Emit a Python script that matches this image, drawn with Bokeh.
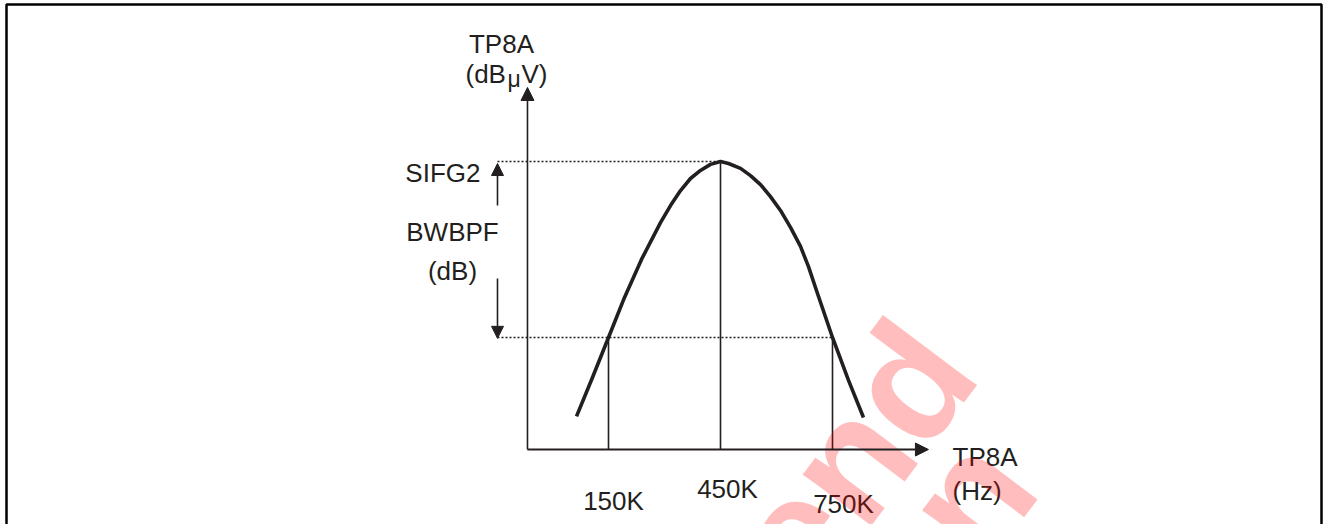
from bokeh.plotting import figure
from bokeh.models import Arrow, NormalHead, Range1d
from bokeh.core.properties import value
from bokeh.embed import file_html
from bokeh.resources import INLINE

# ---------------- data ----------------
tick_freq = [150, 450, 750]                 # kHz
tick_labels = ["150K", "450K", "750K"]
curve_freq = [64.3, 107.1, 150, 192.9, 238.4, 289.3, 316.1, 342.9, 369.6, 396.4, 423.2, 450,
              471.4, 503.6, 530.4, 557.1, 583.9, 610.7, 637.5, 664.3, 685.7, 707.1, 750, 792.9, 833.0]
curve_level = [11.5, 25.0, 38.9, 52.8, 66.0, 78.8, 84.7, 89.9, 94.1, 96.9, 99.0, 100.0,
               99.3, 97.6, 95.1, 92.0, 87.8, 83.0, 77.1, 70.5, 63.5, 55.2, 38.9, 24.0, 11.1]
peak_freq = 450
peak_level = 100.0      # SIFG2
bw_level = 38.9         # SIFG2 - BWBPF
axis_level_max = 125.7
axis_freq_min = -67
axis_freq_max = 1007

INK = "#231f20"
FONT = value("Liberation Sans")

W, H = 1324, 524


# pixel -> data helpers for decoration placement (layout only)
def fx(px):
    return 150 + (px - 608) / 0.373333


def ly(py):
    return (449 - py) / 2.88


p = figure(width=W, height=H,
           x_range=Range1d(fx(0), fx(W)), y_range=Range1d(ly(H), ly(0)),
           output_backend="svg", toolbar_location=None,
           x_axis_type=None, y_axis_type=None, min_border=0, margin=0)
p.grid.visible = False
p.outline_line_color = None
p.background_fill_color = "white"
p.border_fill_color = "white"

# page frame
p.line([fx(6), fx(6), fx(1321), fx(1321)], [ly(540), ly(4), ly(4), ly(540)],
       line_color="black", line_width=2.5)

# dotted reference lines
left_ref = fx(497)
p.line([left_ref, peak_freq], [peak_level, peak_level], line_color=INK, line_width=1.5, line_dash="2 2")
p.line([left_ref, tick_freq[2]], [bw_level, bw_level], line_color=INK, line_width=1.5, line_dash="2 2")

# verticals at 150K / 450K / 750K
p.segment(x0=tick_freq, y0=[0, 0, 0], x1=tick_freq, y1=[bw_level, peak_level, bw_level],
          line_color=INK, line_width=1.6)

# curve
p.line(curve_freq, curve_level, line_color=INK, line_width=3.6, line_join="round", line_cap="butt")

# axes with arrows
p.add_layout(Arrow(x_start=axis_freq_min, y_start=0, x_end=axis_freq_min, y_end=axis_level_max,
                   line_color=INK, line_width=1.6,
                   end=NormalHead(size=13, fill_color=INK, line_color=INK, line_width=1)))
p.add_layout(Arrow(x_start=axis_freq_min, y_start=0, x_end=axis_freq_max, y_end=0,
                   line_color=INK, line_width=2,
                   end=NormalHead(size=13, fill_color=INK, line_color=INK, line_width=1)))

# BWBPF double arrow
p.add_layout(Arrow(x_start=left_ref, y_start=ly(205), x_end=left_ref, y_end=peak_level - 0.7,
                   line_color=INK, line_width=1.6,
                   end=NormalHead(size=12, fill_color=INK, line_color=INK, line_width=1)))
p.add_layout(Arrow(x_start=left_ref, y_start=ly(278), x_end=left_ref, y_end=bw_level - 0.3,
                   line_color=INK, line_width=1.6,
                   end=NormalHead(size=12, fill_color=INK, line_color=INK, line_width=1)))

common = dict(text_font=FONT, text_color=INK, text_baseline="alphabetic")

# tick labels
p.text(x=[fx(613), fx(727), fx(843)], y=[ly(500), ly(488), ly(503)], text=tick_labels,
       text_align="center", text_font_size="26px", **common)

# y axis title
p.text(x=[fx(501)], y=[ly(43)], text=["TP8A"], text_align="center", text_font_size="26px", **common)
p.text(x=[fx(465)], y=[ly(73)], text=["(dB"], text_align="left", text_font_size="26px", **common)
p.text(x=[fx(507)], y=[ly(78)], text=["\u03bc"], text_align="left", text_font_size="23px", **common)
p.text(x=[fx(521)], y=[ly(73)], text=["V)"], text_align="left", text_font_size="26px", **common)

# x axis title
p.text(x=[fx(952), fx(952)], y=[ly(456), ly(490)], text=["TP8A", "(Hz)"],
       text_align="left", text_font_size="26px", **common)

# left annotations
p.text(x=[fx(480)], y=[ly(172)], text=["SIFG2"], text_align="right", text_font_size="26px", **common)
p.text(x=[fx(452), fx(452)], y=[ly(231), ly(270)], text=["BWBPF", "(dB)"],
       text_align="center", text_font_size="26px", **common)

# watermark
p.text(x=[fx(938), fx(998)], y=[ly(342), ly(457)], text=["Not Recommend", "for New Design"],
       text_align="right", text_baseline="alphabetic", angle=53, angle_units="deg",
       text_font=FONT, text_font_style="bold", text_font_size="162px",
       text_color="#ff0000", text_alpha=0.26)

open("out.html", "w").write(file_html(p, INLINE))
